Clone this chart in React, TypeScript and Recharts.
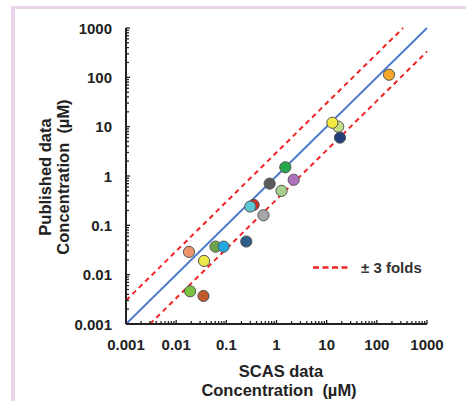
import { ScatterChart, Scatter, XAxis, YAxis, ReferenceLine, Cell } from 'recharts';

// Log-log comparison: SCAS vs published concentrations, with identity and ±3-fold bands
const majorTicks = [0.001, 0.01, 0.1, 1, 10, 100, 1000];
const majorLabels = ['0.001', '0.01', '0.1', '1', '10', '100', '1000'];
const minorSteps = [2, 3, 4, 5, 6, 7, 8, 9];
const allTicks = majorTicks.flatMap((t, i) =>
  i < majorTicks.length - 1 ? [t, ...minorSteps.map((m) => t * m)] : [t]
);

const scasX = [0.018, 0.036, 0.019, 0.035, 0.061, 0.088, 0.25, 0.35, 0.3, 0.55, 0.73, 1.26, 1.5, 2.2, 17, 13, 18.4, 175];
const publishedY = [0.029, 0.019, 0.0046, 0.0037, 0.037, 0.037, 0.047, 0.26, 0.24, 0.16, 0.7, 0.5, 1.5, 0.84, 10, 12, 6, 113];
const pointColors = [
  '#F0956B', '#EEE84A', '#7CC242', '#BF5A2C', '#6BA64A', '#1FA8E0', '#2D5E88', '#D42A24', '#5CC8D6',
  '#A5A6A8', '#5A5B5D', '#A8D08D', '#26A84C', '#B072BE', '#C4DE86', '#F0EA42', '#203F78', '#F4A72A',
];
const points = scasX.map((x, i) => ({ x, y: publishedY[i] }));

const identityLine = [{ x: 0.001, y: 0.001 }, { x: 1000, y: 1000 }];
const upperFold = [{ x: 0.001, y: 0.003 }, { x: 333.3, y: 1000 }];
const lowerFold = [{ x: 0.003, y: 0.001 }, { x: 1000, y: 333.3 }];

const FONT = '"Liberation Sans", Arial, sans-serif';
const INK = '#222';

const majorIndex = (v: number) =>
  majorTicks.findIndex((t) => Math.abs(Math.log10(t) - Math.log10(v)) < 1e-6);

const XTick = ({ x, y, payload }: any) => {
  const idx = majorIndex(payload.value);
  return (
    <g>
      <line x1={x} x2={x} y1={y} y2={y - (idx >= 0 ? 4 : 3)} stroke={INK} strokeWidth={1.3} />
      {idx >= 0 && (
        <text x={x} y={y + 26} textAnchor="middle" fontFamily={FONT} fontWeight="bold" fontSize={15} fill={INK}>
          {majorLabels[idx]}
        </text>
      )}
    </g>
  );
};

const YTick = ({ x, y, payload }: any) => {
  const idx = majorIndex(payload.value);
  return (
    <g>
      <line x1={x} x2={x + (idx >= 0 ? 4 : 3)} y1={y} y2={y} stroke={INK} strokeWidth={1.3} />
      {idx >= 0 && (
        <text x={x - 14} y={y + 5.5} textAnchor="end" fontFamily={FONT} fontWeight="bold" fontSize={15} fill={INK}>
          {majorLabels[idx]}
        </text>
      )}
    </g>
  );
};

const Dot = (p: any) => (
  <circle cx={p.cx} cy={p.cy} r={5.6} fill={p.fill} stroke="#555" strokeWidth={1} />
);

export default function App() {
  return (
    <div style={{ position: 'absolute', left: 0, top: 0, width: 466, height: 401, background: '#fff', overflow: 'hidden' }}>
      <div
        style={{
          position: 'absolute', left: 11, top: 6, width: 470, height: 410,
          borderLeft: '4px solid #E9D5EA', borderTop: '3px solid #E9D5EA',
        }}
      />
      <ScatterChart
        width={466}
        height={401}
        margin={{ top: 28, right: 39, bottom: 0, left: 0 }}
        style={{ position: 'absolute', left: 0, top: 0 }}
      >
        <XAxis
          type="number"
          dataKey="x"
          scale="log"
          domain={[0.001, 1000]}
          ticks={allTicks}
          interval={0}
          allowDataOverflow
          height={77}
          tickSize={0}
          tickMargin={0}
          tick={<XTick />}
          axisLine={{ stroke: INK, strokeWidth: 2 }}
        />
        <YAxis
          type="number"
          dataKey="y"
          scale="log"
          domain={[0.001, 1000]}
          ticks={allTicks}
          interval={0}
          allowDataOverflow
          width={126}
          tickSize={0}
          tickMargin={0}
          tick={<YTick />}
          axisLine={{ stroke: INK, strokeWidth: 2 }}
        />
        <ReferenceLine segment={upperFold} stroke="#F02525" strokeWidth={2} strokeDasharray="5 4" />
        <ReferenceLine segment={lowerFold} stroke="#F02525" strokeWidth={2} strokeDasharray="5 4" />
        <ReferenceLine segment={identityLine} stroke="#4A78C8" strokeWidth={1.8} />
        <Scatter data={points} shape={Dot} isAnimationActive={false}>
          {points.map((_, i) => (
            <Cell key={i} fill={pointColors[i]} />
          ))}
        </Scatter>
      </ScatterChart>
      <svg width={466} height={401} style={{ position: 'absolute', left: 0, top: 0, pointerEvents: 'none' }}>
        <line x1={313} x2={349} y1={267.5} y2={267.5} stroke="#F02525" strokeWidth={2.5} strokeDasharray="6 3.5" />
        <text x={361} y={273} fontFamily={FONT} fontWeight="bold" fontSize={15} fill="#333">± 3 folds</text>
        <g fontFamily={FONT} fontWeight="bold" fontSize={16.5} fill={INK} textAnchor="middle">
          <text x={281} y={377}>SCAS data</text>
          <text x={279} y={396} style={{ whiteSpace: 'pre' }}>{'Concentration  (µM)'}</text>
          <text transform="translate(51,177) rotate(-90)">Published data</text>
          <text transform="translate(69,177) rotate(-90)" style={{ whiteSpace: 'pre' }}>{'Concentration  (µM)'}</text>
        </g>
      </svg>
    </div>
  );
}
